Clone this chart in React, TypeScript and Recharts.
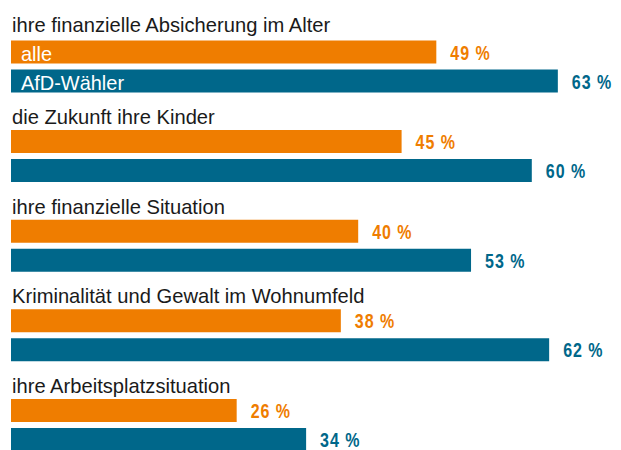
import { BarChart, Bar, XAxis, YAxis, LabelList } from 'recharts';

const categories = [
  'ihre finanzielle Absicherung im Alter',
  'die Zukunft ihre Kinder',
  'ihre finanzielle Situation',
  'Kriminalität und Gewalt im Wohnumfeld',
  'ihre Arbeitsplatzsituation',
];
const alleValues = [49, 45, 40, 38, 26];
const afdValues = [63, 60, 53, 62, 34];
const seriesNames = ['alle', 'AfD-Wähler'];

const ORANGE = '#ef7d00';
const BLUE = '#00678a';
const FONT = "'Liberation Sans Narrow', 'Arial Narrow', 'Liberation Sans', sans-serif";

const data = categories.map((name, i) => ({
  name,
  alle: alleValues[i],
  afd: afdValues[i],
}));

type LabelProps = {
  x?: number | string;
  y?: number | string;
  width?: number | string;
  height?: number | string;
  value?: number | string;
  index?: number;
};

// text is a bit condensed in the original, squeeze it horizontally
function CategoryLabel(props: LabelProps) {
  const x = Number(props.x) + 1;
  const y = Number(props.y) - (props.index === 0 ? 9 : 6);
  return (
    <text transform={`translate(${x}, ${y}) scale(0.96, 1)`} fontFamily={FONT} fontSize={21} fill="#1a1a1a">
      {props.value}
    </text>
  );
}

function makeValueLabel(color: string) {
  return (props: LabelProps) => {
    const x = Number(props.x) + Number(props.width) + 14;
    const y = Number(props.y) + Number(props.height) / 2 + 1;
    return (
      <text
        transform={`translate(${x}, ${y}) scale(0.8, 1)`}
        dominantBaseline="central"
        fontFamily={FONT}
        fontWeight="bold"
        fontSize={20}
        letterSpacing={1.2}
        fill={color}
      >
        {`${props.value} %`}
      </text>
    );
  };
}

function makeSeriesName(name: string) {
  return (props: LabelProps) => {
    if (props.index !== 0) return null;
    const x = Number(props.x) + 10;
    const y = Number(props.y) + Number(props.height) / 2 + 1;
    return (
      <text
        transform={`translate(${x}, ${y}) scale(0.95, 1)`}
        dominantBaseline="central"
        fontFamily={FONT}
        fontSize={21}
        fill="#fff"
      >
        {name}
      </text>
    );
  };
}

export default function App() {
  return (
    <div style={{ position: 'fixed', left: 0, top: 0, width: 621, height: 450, overflow: 'hidden', background: '#fff' }}>
      <BarChart
        width={621}
        height={470}
        data={data}
        layout="vertical"
        margin={{ top: 21.5, right: 2.4, bottom: 0.5, left: 11 }}
        barSize={23}
        barGap={6}
      >
        <XAxis type="number" domain={[0, 70]} hide />
        <YAxis type="category" dataKey="name" hide />
        <Bar dataKey="alle" fill={ORANGE} isAnimationActive={false}>
          <LabelList dataKey="name" content={CategoryLabel} />
          <LabelList dataKey="alle" content={makeValueLabel(ORANGE)} />
          <LabelList dataKey="alle" content={makeSeriesName(seriesNames[0])} />
        </Bar>
        <Bar dataKey="afd" fill={BLUE} isAnimationActive={false}>
          <LabelList dataKey="afd" content={makeValueLabel(BLUE)} />
          <LabelList dataKey="afd" content={makeSeriesName(seriesNames[1])} />
        </Bar>
      </BarChart>
    </div>
  );
}
